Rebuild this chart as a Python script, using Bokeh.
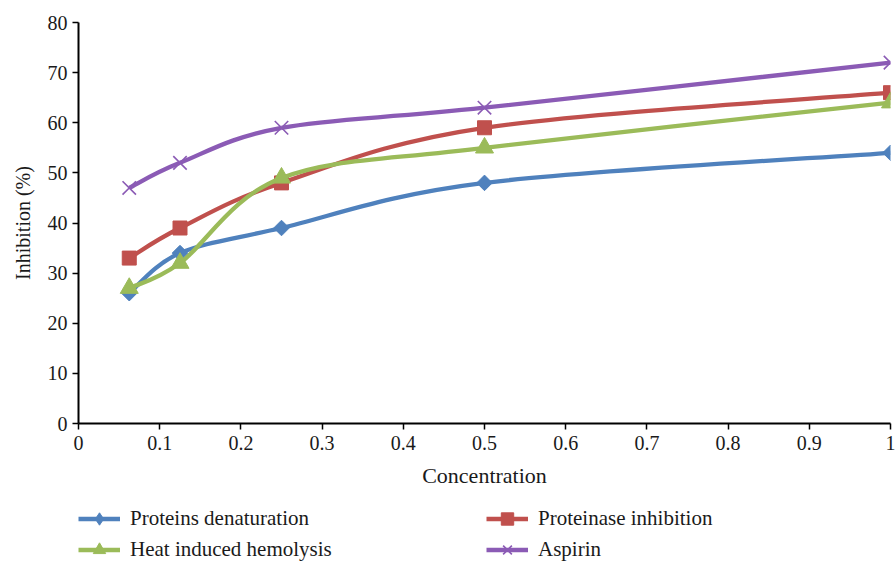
import math
from bokeh.plotting import figure
from bokeh.layouts import column
from bokeh.models import Legend, LegendItem, Range1d, FixedTicker
from bokeh.embed import file_html
from bokeh.resources import INLINE

# ---- data ----
concentration = [0.0625, 0.125, 0.25, 0.5, 1.0]
proteins_denaturation = [26, 34, 39, 48, 54]
proteinase_inhibition = [33, 39, 48, 59, 66]
heat_induced_hemolysis = [27, 32, 49, 55, 64]
aspirin = [47, 52, 59, 63, 72]

series_names = ["Proteins denaturation", "Proteinase inhibition",
                "Heat induced hemolysis", "Aspirin"]
x_ticks = [0, 0.1, 0.2, 0.3, 0.4, 0.5, 0.6, 0.7, 0.8, 0.9, 1.0]
x_tick_labels = ["0", "0.1", "0.2", "0.3", "0.4", "0.5", "0.6", "0.7", "0.8", "0.9", "1"]
y_ticks = [0, 10, 20, 30, 40, 50, 60, 70, 80]

FONT = "Liberation Serif"
TXT = "#1a1a1a"
colors = ["#4F81BD", "#C0504D", "#9BBB59", "#8B5BB5"]
markers = ["square", "square", "triangle", "x"]
legend_markers = ["diamond", "square", "triangle", "x"]
mangles = [math.pi / 4, 0, 0, 0]
msizes = [11, 14, 18, 19]


def smooth_segments(xs, ys, t=1.0 / 6.0):
    """Catmull-Rom style bezier control points (Excel-like smoothing)."""
    n = len(xs)
    x0, y0, x1, y1, cx0, cy0, cx1, cy1 = ([] for _ in range(8))
    for i in range(n - 1):
        pxm = xs[i - 1] if i > 0 else xs[i]
        pym = ys[i - 1] if i > 0 else ys[i]
        pxp = xs[i + 2] if i + 2 < n else xs[i + 1]
        pyp = ys[i + 2] if i + 2 < n else ys[i + 1]
        x0.append(xs[i]); y0.append(ys[i])
        x1.append(xs[i + 1]); y1.append(ys[i + 1])
        cx0.append(xs[i] + (xs[i + 1] - pxm) * t)
        cy0.append(ys[i] + (ys[i + 1] - pym) * t)
        cx1.append(xs[i + 1] - (pxp - xs[i]) * t)
        cy1.append(ys[i + 1] - (pyp - ys[i]) * t)
    return dict(x0=x0, y0=y0, x1=x1, y1=y1, cx0=cx0, cy0=cy0, cx1=cx1, cy1=cy1)


MAIN_H = 495
p = figure(width=895, height=MAIN_H, x_range=Range1d(0, 1), y_range=Range1d(0, 80),
           output_backend="svg", toolbar_location=None,
           min_border_left=78, min_border_right=5, min_border_top=22,
           min_border_bottom=MAIN_H - 423)

p.xgrid.visible = False
p.ygrid.visible = False
p.outline_line_color = None
p.background_fill_color = "white"

for ax in (p.xaxis[0], p.yaxis[0]):
    ax.axis_line_color = "black"
    ax.axis_line_width = 2
    ax.major_tick_line_color = "black"
    ax.major_tick_line_width = 1.5
    ax.major_tick_in = 0
    ax.major_tick_out = 6
    ax.minor_tick_line_color = None
    ax.major_label_text_font = FONT
    ax.major_label_text_font_size = "20px"
    ax.major_label_text_color = TXT
    ax.axis_label_text_font = FONT
    ax.axis_label_text_font_style = "normal"
    ax.axis_label_text_color = TXT

p.xaxis.axis_label_text_font_size = "22px"
p.yaxis.axis_label_text_font_size = "20px"
p.xaxis.ticker = FixedTicker(ticks=x_ticks)
p.xaxis.major_label_overrides = {t: l for t, l in zip(x_ticks, x_tick_labels)}
p.yaxis.ticker = FixedTicker(ticks=y_ticks)
p.xaxis.axis_label = "Concentration"
p.yaxis.axis_label = "Inhibition (%)"
p.xaxis.major_label_standoff = 6
p.xaxis.axis_label_standoff = 10
p.yaxis.major_label_standoff = 5
p.yaxis.axis_label_standoff = 11

# legend panel (separate figure placed under the chart)
pl = figure(width=895, height=561 - MAIN_H, x_range=Range1d(0, 1), y_range=Range1d(0, 1),
            output_backend="svg", toolbar_location=None, min_border=0,
            x_axis_location=None, y_axis_location=None)
pl.xgrid.visible = False
pl.ygrid.visible = False
pl.outline_line_color = None

legend_items = {}
for name, ys, c, m, lm, a, s in zip(series_names,
                                    [proteins_denaturation, proteinase_inhibition,
                                     heat_induced_hemolysis, aspirin],
                                    colors, markers, legend_markers, mangles, msizes):
    seg = smooth_segments(concentration, ys)
    p.bezier(x0="x0", y0="y0", x1="x1", y1="y1", cx0="cx0", cy0="cy0",
             cx1="cx1", cy1="cy1", source=seg, line_color=c, line_width=4.3)
    if m == "x":
        style = dict(size=s, line_color=c, line_width=1.6)
    else:
        style = dict(size=s, fill_color=c, line_color=c)
    p.scatter(concentration, ys, marker=m, angle=a, **style)
    sr = pl.scatter([float("nan")], [float("nan")], marker=lm, **style)
    lr = pl.line([float("nan")], [float("nan")], line_color=c, line_width=4.3)
    legend_items[name] = LegendItem(label=name, renderers=[lr, sr])

# legend fills column by column: order so rows read like the reference
legend_order = ["Proteins denaturation", "Heat induced hemolysis",
                "Proteinase inhibition", "Aspirin"]
legend = Legend(items=[legend_items[n] for n in legend_order], ncols=2,
                location=(0, -4),
                glyph_width=42, glyph_height=31, label_standoff=10,
                label_width=356, spacing=0, padding=0, margin=0,
                border_line_color=None, background_fill_alpha=0,
                label_text_font=FONT, label_text_font_size="21px",
                label_text_color=TXT)
pl.add_layout(legend, "center")

layout = column(p, pl, spacing=0)
open("out.html", "w").write(file_html(layout, INLINE))
